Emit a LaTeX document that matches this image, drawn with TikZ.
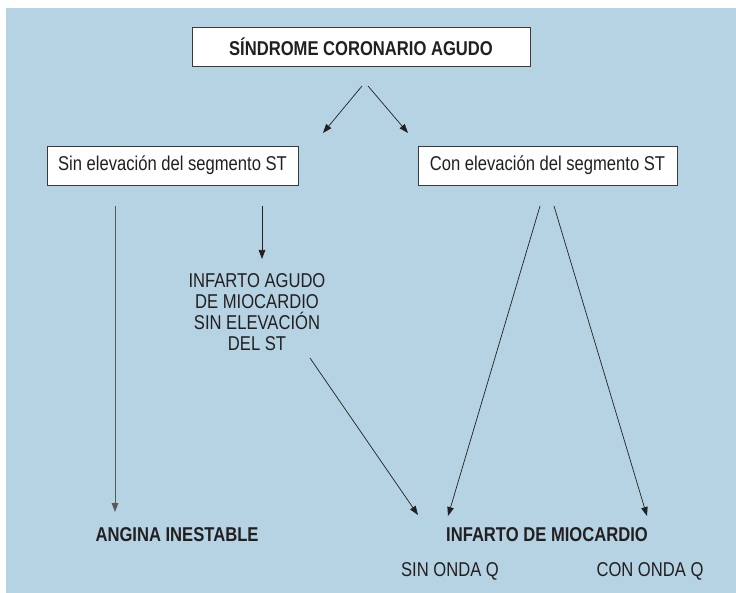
\documentclass[tikz,border=0pt]{standalone}
\usepackage{fontspec}
\setmainfont[FakeStretch=0.83]{Liberation Sans}
\usetikzlibrary{arrows.meta}
\definecolor{bgblue}{HTML}{B5D3E3}
\definecolor{ink}{HTML}{231F20}
\definecolor{edge}{HTML}{3A3A3A}
\tikzset{
  boxnode/.style={draw=edge, line width=0.9pt, fill=white, inner sep=0pt, minimum height=39pt, font=\fontsize{20}{21}\selectfont, text=ink},
  lbl/.style={inner sep=0pt, font=\fontsize{20}{21}\selectfont, text=ink, align=center},
  blbl/.style={lbl, font=\fontsize{20}{21}\selectfont\bfseries},
  arr/.style={draw=ink, line width=0.7pt, -{Triangle[length=9pt,width=6.5pt]}},
}
\begin{document}
\begin{tikzpicture}[x=1pt,y=-1pt]
\useasboundingbox (0,0) rectangle (736,593);
\fill[bgblue] (6,8) rectangle (736,593);

\node[boxnode, minimum width=338pt, font=\fontsize{20}{21}\selectfont\bfseries] (top) at (361,46.5) {SÍNDROME CORONARIO AGUDO};
\node[boxnode, minimum width=251pt] (sin) at (172.5,165.5) {Sin elevación del segmento ST};
\node[boxnode, minimum width=259pt] (con) at (547.5,165.5) {Con elevación del segmento ST};

\node[lbl] (iam) at (257,312.5) {INFARTO AGUDO\\DE MIOCARDIO\\SIN ELEVACIÓN\\DEL ST};
\node[blbl] (angina) at (177,535) {ANGINA INESTABLE};
\node[blbl] (infarto) at (547,535) {INFARTO DE MIOCARDIO};
\node[lbl] (sinq) at (450,571) {SIN ONDA Q};
\node[lbl] (conq) at (650,571) {CON ONDA Q};

% free ends
\coordinate (t1) at (362,86);
\coordinate (t2) at (368,86);
\coordinate (e1) at (323,133);
\coordinate (e2) at (408,133);
\coordinate (s1) at (115,206);
\coordinate (s2) at (262,206);
\coordinate (c1) at (540,206);
\coordinate (c2) at (554,206);
\coordinate (d1) at (310,358);

\draw[arr] (t1) -- (e1);
\draw[arr] (t2) -- (e2);
\draw[arr, line width=1pt, draw=ink!75] (s1) -- ([yshift=23pt]s1 |- angina.center);
\draw[arr] (s2) -- ([yshift=53.5pt]s2 |- iam.center);
\draw[arr] (d1) -- ([xshift=-129pt,yshift=20pt]infarto.center);
\draw[arr] (c1) -- ([xshift=-99pt,yshift=19pt]infarto.center);
\draw[arr] (c2) -- ([xshift=100pt,yshift=19pt]infarto.center);
\end{tikzpicture}
\end{document}
